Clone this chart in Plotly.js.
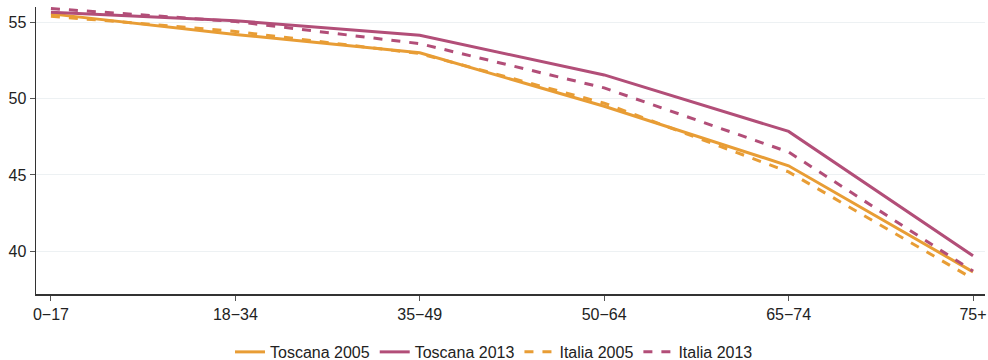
<!DOCTYPE html>
<html><head><meta charset="utf-8">
<script src="https://cdn.plot.ly/plotly-3.0.1.min.js"></script>
<style>html,body{margin:0;padding:0;background:#fff}</style>
</head><body><div id="chart" style="width:988px;height:360px"></div>
<script>
const categories = ["0\u221217","18\u221234","35\u221249","50\u221264","65\u221274","75+"];
const toscana2005 = [55.55, 54.2, 53.0, 49.5, 45.6, 38.65];
const toscana2013 = [55.65, 55.1, 54.15, 51.55, 47.85, 39.7];
const italia2005 = [55.4, 54.4, 52.95, 49.7, 45.2, 38.2];
const italia2013 = [55.9, 55.05, 53.6, 50.7, 46.5, 38.7];
const orange = "#E89D35", purple = "#B24E78";
const mk = (name, y, color, dash) => ({type:"scatter", mode:"lines", name, x:categories, y,
  line:{color, width:3, dash}});
const data = [
  mk("Toscana 2005", toscana2005, orange, "solid"),
  mk("Toscana 2013", toscana2013, purple, "solid"),
  mk("Italia 2005", italia2005, orange, "dash"),
  mk("Italia 2013", italia2013, purple, "dash")
];
const layout = {
  width:988, height:360, margin:{l:36, r:3, t:7, b:66, autoexpand:false},
  paper_bgcolor:"#fff", plot_bgcolor:"#fff",
  font:{family:"Liberation Sans, Arial, sans-serif", size:16, color:"#222"},
  showlegend:true,
  legend:{orientation:"h", x:0.4826, xanchor:"center", y:-0.202, yanchor:"middle", font:{size:16}},
  xaxis:{type:"category", range:[-0.081, 5.065], showline:true, linecolor:"#333", linewidth:1.5,
    ticks:"outside", ticklen:5, tickcolor:"#555", showgrid:false, zeroline:false, tickfont:{size:16}},
  yaxis:{range:[37.2, 56.0], tickvals:[40,45,50,55], showline:true, linecolor:"#333", linewidth:1.5,
    ticks:"outside", ticklen:5, tickcolor:"#555", gridcolor:"#edf1f3", zeroline:false, tickfont:{size:16}}
};
Plotly.newPlot("chart", data, layout, {displayModeBar:false, staticPlot:true});
</script></body></html>
